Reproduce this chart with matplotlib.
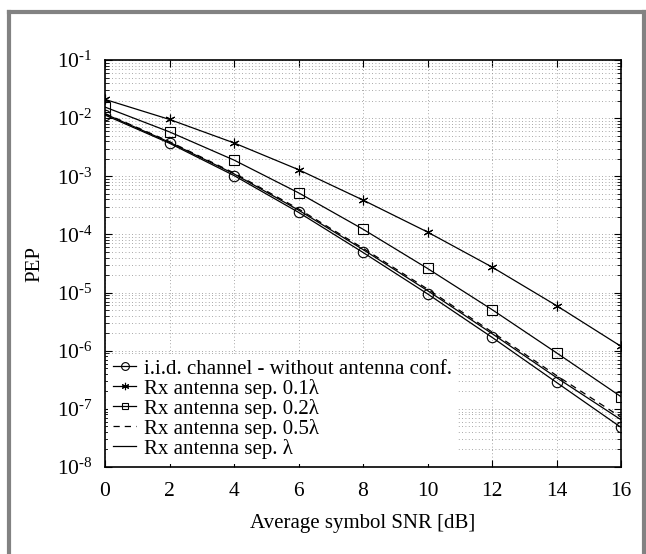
import matplotlib.pyplot as plt
from matplotlib.lines import Line2D
from matplotlib.ticker import LogLocator, FixedLocator, NullFormatter, FuncFormatter
import numpy as np

plt.rcParams['font.family'] = ['Liberation Serif', 'DejaVu Serif']
plt.rcParams['mathtext.fontset'] = 'custom'
plt.rcParams['mathtext.rm'] = 'Liberation Serif'
plt.rcParams['mathtext.it'] = 'Liberation Serif:italic'

# data
snr = [0, 2, 4, 6, 8, 10, 12, 14, 16]
pep_iid = [1.13e-2, 3.7e-3, 1.03e-3, 2.4e-4, 4.9e-5, 9.5e-6, 1.7e-6, 2.85e-7, 4.8e-8]
pep_01 = [2.1e-2, 9.5e-3, 3.75e-3, 1.3e-3, 3.9e-4, 1.1e-4, 2.75e-5, 5.97e-6, 1.19e-6]
pep_02 = [1.55e-2, 5.8e-3, 1.9e-3, 5.2e-4, 1.23e-4, 2.6e-5, 5.1e-6, 9.2e-7, 1.62e-7]
pep_05 = [1.2e-2, 3.95e-3, 1.14e-3, 2.75e-4, 5.8e-5, 1.15e-5, 2.1e-6, 3.75e-7, 7.2e-8]
pep_1 = [1.18e-2, 3.85e-3, 1.1e-3, 2.62e-4, 5.5e-5, 1.08e-5, 1.97e-6, 3.45e-7, 6.5e-8]

labels = ['i.i.d. channel - without antenna conf.',
          'Rx antenna sep. 0.1λ',
          'Rx antenna sep. 0.2λ',
          'Rx antenna sep. 0.5λ',
          'Rx antenna sep. λ']
xticks = [0, 2, 4, 6, 8, 10, 12, 14, 16]

W, H = 646, 554
fig = plt.figure(figsize=(W / 100, H / 100), dpi=100)
ax = fig.add_axes([105 / W, 1 - 467 / H, (621 - 105) / W, (467 - 60) / H])

lw = 0.9
ax.plot(snr, pep_iid, '-', color='k', lw=lw, marker='o', ms=7.5, mfc='none', mew=0.8, label=labels[0])
ax.plot(snr, pep_01, '-', color='k', lw=lw, marker=(6, 2, 0), ms=7, mew=0.8, label=labels[1])
ax.plot(snr, pep_02, '-', color='k', lw=lw, marker='s', ms=6.5, mfc='none', mew=0.8, label=labels[2])
ax.plot(snr, pep_05, '--', color='k', lw=lw, dashes=(5, 4), label=labels[3])
ax.plot(snr, pep_1, '-', color='k', lw=lw, label=labels[4])

ax.set_yscale('log')
ax.set_xlim(0, 16)
ax.set_ylim(1e-8, 1e-1)
ax.xaxis.set_major_locator(FixedLocator(xticks))
ax.yaxis.set_major_locator(LogLocator(base=10, numticks=20))
ax.yaxis.set_minor_locator(LogLocator(base=10, subs=range(2, 10), numticks=20))
ax.yaxis.set_minor_formatter(NullFormatter())
ax.yaxis.set_major_formatter(FuncFormatter(
    lambda v, p: r'$\mathregular{10^{\text{-}%d}}$' % abs(int(round(np.log10(v))))))

ax.grid(True, which='major', color='#8a8a8a', ls=(0, (1, 3)), lw=0.6)
ax.grid(True, which='minor', axis='y', color='#8a8a8a', ls=(0, (1, 3)), lw=0.6)
ax.tick_params(which='both', direction='in', top=True, right=True, labelsize=15.5)
ax.tick_params(which='major', length=5, width=0.8)
ax.tick_params(which='minor', length=3, width=0.6)
ax.tick_params(axis='x', pad=11)
ax.tick_params(axis='y', pad=9)
for s in ax.spines.values():
    s.set_linewidth(1.2)

ax.set_xlabel('Average symbol SNR [dB]', fontsize=15, labelpad=9)
ax.set_ylabel('PEP', fontsize=15)
ax.yaxis.set_label_coords((44 - 105) / 516, 0.5)

leg = ax.legend(loc='lower left', fontsize=15, frameon=True, fancybox=False,
                framealpha=1, edgecolor='none', facecolor='white',
                handlelength=1.1, handletextpad=0.35, labelspacing=0.0,
                borderpad=0.25, borderaxespad=0.15, markerscale=0.75)

# gray frame around the figure (open at the bottom)
gray = '#828282'
fw = 3.0
fig.add_artist(Line2D([9 / W, 9 / W], [0, 1 - 12 / H], color=gray, lw=fw, transform=fig.transFigure))
fig.add_artist(Line2D([9 / W, 644 / W], [1 - 12 / H, 1 - 12 / H], color=gray, lw=fw, transform=fig.transFigure))
fig.add_artist(Line2D([644 / W, 644 / W], [0, 1 - 12 / H], color=gray, lw=fw, transform=fig.transFigure))

fig.savefig('out.png', dpi=100)
